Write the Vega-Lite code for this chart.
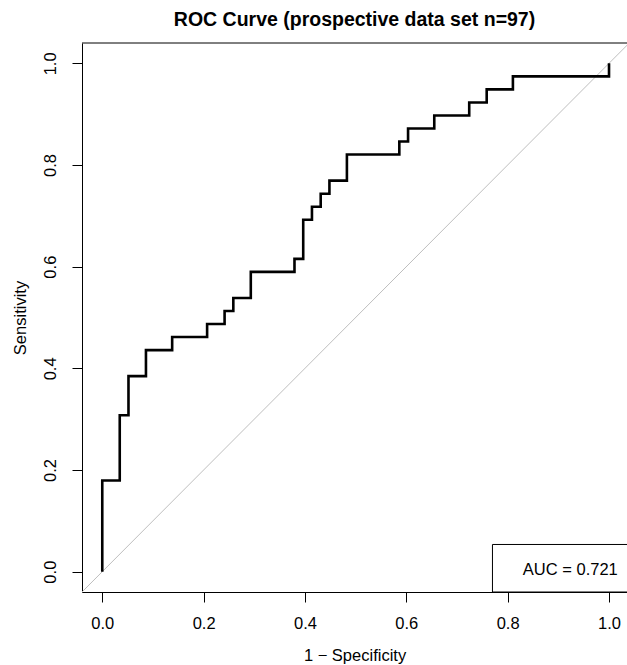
{
  "$schema": "https://vega.github.io/schema/vega-lite/v6.json",
  "autosize": "none",
  "width": 545,
  "height": 549,
  "padding": {"left": 82, "top": 43, "right": 0, "bottom": 73},
  "background": "white",
  "title": {
    "text": "ROC Curve (prospective data set n=97)",
    "font": "Liberation Sans",
    "fontSize": 19.5,
    "fontWeight": "bold",
    "color": "black",
    "anchor": "middle",
    "offset": 12
  },
  "config": {
    "view": {"stroke": null},
    "font": "Liberation Sans",
    "axis": {
      "grid": false,
      "domainColor": "black",
      "domainWidth": 1,
      "tickColor": "black",
      "tickWidth": 1,
      "tickSize": 10,
      "labelColor": "black",
      "labelFontSize": 16.5,
      "labelFont": "Liberation Sans",
      "titleColor": "black",
      "titleFontSize": 16.5,
      "titleFontWeight": "normal",
      "titleFont": "Liberation Sans"
    }
  },
  "datasets": {
    "roc": [
      {"fpr": 0, "tpr": 0},
      {"fpr": 0, "tpr": 0.179487},
      {"fpr": 0.034483, "tpr": 0.179487},
      {"fpr": 0.034483, "tpr": 0.307692},
      {"fpr": 0.051724, "tpr": 0.307692},
      {"fpr": 0.051724, "tpr": 0.384615},
      {"fpr": 0.086207, "tpr": 0.384615},
      {"fpr": 0.086207, "tpr": 0.435897},
      {"fpr": 0.137931, "tpr": 0.435897},
      {"fpr": 0.137931, "tpr": 0.461538},
      {"fpr": 0.206897, "tpr": 0.461538},
      {"fpr": 0.206897, "tpr": 0.487179},
      {"fpr": 0.241379, "tpr": 0.487179},
      {"fpr": 0.241379, "tpr": 0.512821},
      {"fpr": 0.258621, "tpr": 0.512821},
      {"fpr": 0.258621, "tpr": 0.538462},
      {"fpr": 0.293103, "tpr": 0.538462},
      {"fpr": 0.293103, "tpr": 0.589744},
      {"fpr": 0.37931, "tpr": 0.589744},
      {"fpr": 0.37931, "tpr": 0.615385},
      {"fpr": 0.396552, "tpr": 0.615385},
      {"fpr": 0.396552, "tpr": 0.692308},
      {"fpr": 0.413793, "tpr": 0.692308},
      {"fpr": 0.413793, "tpr": 0.717949},
      {"fpr": 0.431034, "tpr": 0.717949},
      {"fpr": 0.431034, "tpr": 0.74359},
      {"fpr": 0.448276, "tpr": 0.74359},
      {"fpr": 0.448276, "tpr": 0.769231},
      {"fpr": 0.482759, "tpr": 0.769231},
      {"fpr": 0.482759, "tpr": 0.820513},
      {"fpr": 0.586207, "tpr": 0.820513},
      {"fpr": 0.586207, "tpr": 0.846154},
      {"fpr": 0.603448, "tpr": 0.846154},
      {"fpr": 0.603448, "tpr": 0.871795},
      {"fpr": 0.655172, "tpr": 0.871795},
      {"fpr": 0.655172, "tpr": 0.897436},
      {"fpr": 0.724138, "tpr": 0.897436},
      {"fpr": 0.724138, "tpr": 0.923077},
      {"fpr": 0.758621, "tpr": 0.923077},
      {"fpr": 0.758621, "tpr": 0.948718},
      {"fpr": 0.810345, "tpr": 0.948718},
      {"fpr": 0.810345, "tpr": 0.974359},
      {"fpr": 1, "tpr": 0.974359},
      {"fpr": 1, "tpr": 1}
    ],
    "diag": [
      {"fpr": -0.04, "tpr": -0.04},
      {"fpr": 1.04, "tpr": 1.04}
    ],
    "legend": [
      {"label": "AUC = 0.721"}
    ]
  },
  "layer": [
    {
      "data": {"name": "diag"},
      "mark": {"type": "line", "color": "#bebebe", "strokeWidth": 1, "clip": true},
      "encoding": {
        "x": {
          "field": "fpr", "type": "quantitative",
          "scale": {"domain": [-0.04, 1.0355], "nice": false, "zero": false},
          "axis": {
            "values": [0, 0.2, 0.4, 0.6, 0.8, 1.0],
            "format": ".1f",
            "labelPadding": 13,
            "title": "1 − Specificity",
            "titlePadding": 16
          }
        },
        "y": {
          "field": "tpr", "type": "quantitative",
          "scale": {"domain": [-0.04, 1.04], "nice": false, "zero": false},
          "axis": {
            "values": [0, 0.2, 0.4, 0.6, 0.8, 1.0],
            "format": ".1f",
            "labelAngle": -90,
            "labelAlign": "center",
            "labelBaseline": "alphabetic",
            "labelPadding": 17,
            "title": "Sensitivity",
            "titlePadding": 14
          }
        }
      }
    },
    {
      "data": {"name": "roc"},
      "mark": {"type": "line", "color": "black", "strokeWidth": 2.6, "clip": true},
      "encoding": {
        "x": {"field": "fpr", "type": "quantitative"},
        "y": {"field": "tpr", "type": "quantitative"},
        "order": {"field": "tpr", "type": "quantitative"}
      }
    },
    {
      "data": {"name": "legend"},
      "mark": {"type": "rule", "color": "black", "strokeWidth": 1},
      "encoding": {"y": {"datum": 1.04}}
    },
    {
      "data": {"name": "legend"},
      "mark": {"type": "rect", "fill": "white", "stroke": "black", "strokeWidth": 1, "clip": true},
      "encoding": {
        "x": {"datum": 0.77},
        "x2": {"datum": 1.06},
        "y": {"datum": -0.04},
        "y2": {"datum": 0.0535}
      }
    },
    {
      "data": {"name": "legend"},
      "mark": {"type": "text", "align": "left", "baseline": "alphabetic", "fontSize": 16.5, "font": "Liberation Sans", "color": "black"},
      "encoding": {
        "text": {"field": "label", "type": "nominal"},
        "x": {"datum": 0.83},
        "y": {"datum": -0.006}
      }
    }
  ]
}
